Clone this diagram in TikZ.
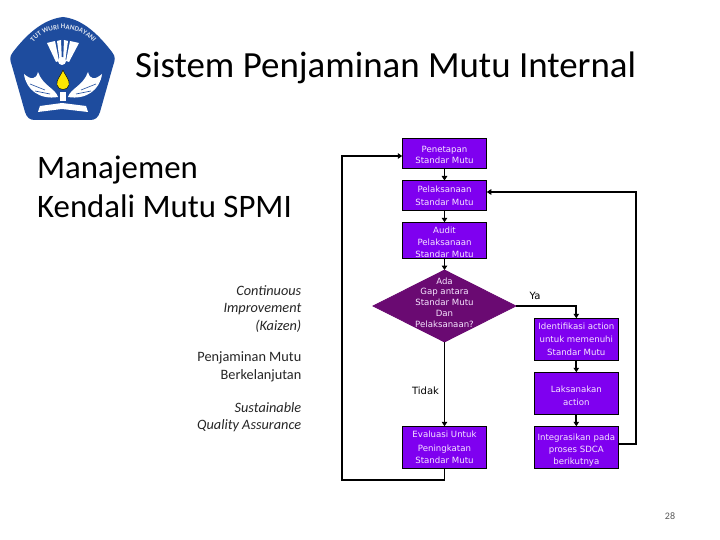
\documentclass[tikz,border=0pt]{standalone}
\usepackage{fontspec}
\setmainfont{Carlito}
\newfontfamily\flowfont{DejaVu Sans}
\usetikzlibrary{shapes.geometric,arrows.meta,decorations.text}
\definecolor{boxv}{HTML}{7F00F0}
\definecolor{diav}{HTML}{6A0A72}
\definecolor{boxt}{HTML}{F6E6FF}
\definecolor{logob}{HTML}{1E4C9E}
\newcommand\dn[1]{\rule{0pt}{#1pt}}
\tikzset{
  flowbase/.style={line width=0.7pt,text=boxt,align=center,inner sep=0pt,outer sep=0pt},
  lsp/.style={font=\flowfont\fontsize{8.6}{#1}\selectfont},
  proc/.style={flowbase,draw=black,rectangle,fill=boxv,minimum width=84.5pt,lsp=12.5},
  dec/.style={flowbase,diamond,fill=diav,draw=diav,minimum width=143pt,minimum height=72pt,aspect=2},
  dectxt/.style={flowbase,lsp=10.8},
  conn/.style={draw=black,line width=1.8pt},
  arr/.style={conn,-{Triangle[length=4.5pt,width=5.5pt]}},
  sidetxt/.style={align=right,anchor=east,inner sep=0pt,font=\fontsize{14.3}{17.5}\selectfont,text=black!85},
  flowlbl/.style={inner sep=0pt,font=\flowfont\fontsize{10}{11}\selectfont,text=black},
}
\begin{document}
\begin{tikzpicture}[x=1pt,y=-1pt]
\useasboundingbox (0,0) rectangle (720,540);
\fill[white] (0,0) rectangle (720,540);
% logo
\fill[logob] (63,17) .. controls (80,19) and (95,30) .. (112,52) .. controls (116,57) and (115,60) .. (113,66)
  -- (100,112) .. controls (98,118) and (95,120) .. (90,120) -- (35,120) .. controls (30,120) and (27,118) .. (25,112)
  -- (12,66) .. controls (10,60) and (9,57) .. (13,52) .. controls (30,30) and (46,19) .. (63,17) -- cycle;
\begin{scope}[white]
 \fill (47,43) -- (55,41) -- (59,61) -- (56,62) -- cycle;
 \fill (57,41) -- (61,40) -- (62,63) -- (60,63) -- cycle;
 \fill (64,40) -- (68,41) -- (65,63) -- (63,63) -- cycle;
 \fill (70,41) -- (79,43) -- (69,62) -- (66,61) -- cycle;
 \fill (62,61) circle (4pt);
 \fill (24,74) .. controls (26,90) and (40,100) .. (58,97) .. controls (55,88) and (43,86) .. (38,72) .. controls (36,80) and (31,80) .. (24,74) -- cycle;
 \fill (102,74) .. controls (100,90) and (86,100) .. (68,97) .. controls (71,88) and (83,86) .. (88,72) .. controls (90,80) and (95,80) .. (102,74) -- cycle;
 \fill (40,106) -- (62,103) -- (86,106) -- (88,112) -- (62,109) -- (38,112) -- cycle;
 \fill (60,92) rectangle (66,101);
\end{scope}
\draw[logob,line width=0.6pt] (30,84) -- (45,90) (96,84) -- (81,90) (35,91) -- (50,94) (91,91) -- (76,94);
\fill[yellow!90!orange,draw=black,line width=0.4pt] (63,70) .. controls (60,77) and (56,80) .. (57,85) .. controls (58,91) and (68,91) .. (69,85) .. controls (70,80) and (66,77) .. (63,70) -- cycle;
\path[decorate,decoration={text along path,text align=center,
  text={|\fontsize{7}{8}\selectfont\bfseries\color{white!85!logob}|TUT WURI HANDAYANI}}]
  (27,56) .. controls (35,20) and (91,20) .. (100,56);
% headings
\node[anchor=base west,inner sep=0pt,font=\fontsize{36.9}{42}\selectfont] (title) at (135,77.5) {Sistem Penjaminan Mutu Internal};
\node[anchor=base west,inner sep=0pt,font=\fontsize{32.8}{38}\selectfont] (m1) at (37,179) {Manajemen};
\node[anchor=base west,inner sep=0pt,font=\fontsize{32.8}{38}\selectfont] (m2) at (37,218) {Kendali Mutu SPMI};
\node[sidetxt] (s1) at (301.5,309) {\itshape Continuous\\\itshape Improvement\\\itshape (Kaizen)};
\node[sidetxt] (s2) at (301.5,367) {Penjaminan Mutu\\Berkelanjutan};
\node[sidetxt] (s3) at (301.5,417) {\itshape Sustainable\\\itshape Quality Assurance};
\node[inner sep=0pt,font=\fontsize{10}{12}\selectfont,text=black!65] (pg) at (670,516) {28};
% flow
\node[proc,lsp=11,minimum height=30pt] (p1) at (444.5,153.3) {\dn{9.5}Penetapan\\Standar Mutu};
\node[proc,lsp=13,minimum height=30pt] (p2) at (444.5,195.5) {Pelaksanaan\\Standar Mutu};
\node[proc,lsp=12,minimum height=36pt] (p3) at (444.5,240.3) {\dn{10}Audit\\Pelaksanaan\\Standar Mutu};
\node[dec] (d) at (444.5,306) {};
\node[dectxt] (dt) at (444.5,302.5) {Ada\\Gap antara\\Standar Mutu\\Dan\\Pelaksanaan?};
\node[proc,minimum height=42.5pt] (ev) at (444.5,447.5) {\raisebox{1pt}{Evaluasi Untuk}\\Peningkatan\\Standar Mutu};
\node[proc,lsp=13,minimum height=42.5pt] (r1) at (576.3,339.5) {Identifikasi action\\untuk memenuhi\\Standar Mutu};
\node[proc,lsp=13,minimum height=42.5pt] (r2) at (576.3,393.5) {\dn{10.5}Laksanakan\\action};
\node[proc,lsp=12,minimum height=42.5pt] (r3) at (576.3,447.5) {\dn{12.5}Integrasikan pada\\proses SDCA\\berikutnya};
\node[flowlbl] (ya) at (535,296) {Ya};
\node[flowlbl] (td) at (425.5,391) {Tidak};
\coordinate (lb) at (342,480);
\coordinate (lt) at (342,156);
\coordinate (rb) at (636,444);
\coordinate (rt) at (636,192);
\draw[arr] (p1) -- (p2);
\draw[arr] (p2) -- (p3);
\draw[arr] (p3) -- (d.north);
\draw[arr] (d.south) -- (ev);
\draw[arr] (d.east) -| (r1.north);
\draw[arr] (r1) -- (r2);
\draw[arr] (r2) -- (r3);
\draw[arr] (r3.east |- rb) -- (rb) -- (rt) -- (p2.east |- rt);
\draw[arr] (ev.south) |- (lb) -- (lt) -- (p1.west |- lt);
\end{tikzpicture}
\end{document}
